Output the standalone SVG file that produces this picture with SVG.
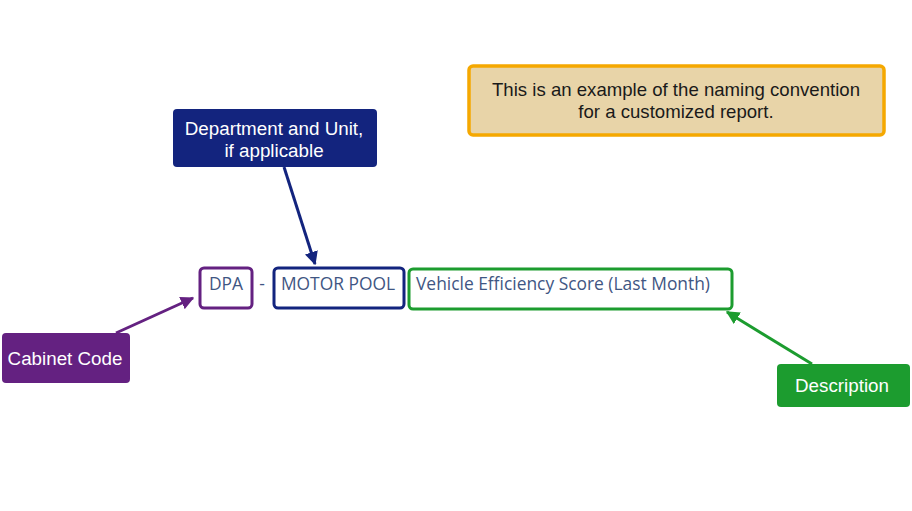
<svg xmlns="http://www.w3.org/2000/svg" width="912" height="511" viewBox="0 0 912 511">
<defs>
<style>
.lbl{font-family:"Liberation Sans",Arial,sans-serif;font-size:18.8px;fill:#ffffff;text-anchor:middle}
.note{font-family:"Liberation Sans",Arial,sans-serif;font-size:18.6px;fill:#1a1a1a;text-anchor:middle}
.seg{font-family:"Open Sans","Noto Sans",sans-serif;font-size:17.4px;fill:#3F5683}
.conn{stroke-width:3;fill:none}
</style>
<marker id="mP" viewBox="0 0 10 10" refX="9" refY="5" markerWidth="4.5" markerHeight="4.5" orient="auto" markerUnits="strokeWidth"><path d="M0,0L10,5L0,10z" fill="#642181"/></marker>
<marker id="mN" viewBox="0 0 10 10" refX="9" refY="5" markerWidth="4.5" markerHeight="4.5" orient="auto" markerUnits="strokeWidth"><path d="M0,0L10,5L0,10z" fill="#13247E"/></marker>
<marker id="mG" viewBox="0 0 10 10" refX="9" refY="5" markerWidth="4.5" markerHeight="4.5" orient="auto" markerUnits="strokeWidth"><path d="M0,0L10,5L0,10z" fill="#1C9C2F"/></marker>
</defs>
<rect width="912" height="511" fill="#ffffff"/>
<g id="note">
<rect x="469" y="66" width="415" height="69" rx="4" fill="#E8D4A8" stroke="#F5A800" stroke-width="3.5"/>
<text class="note" x="676" y="96">This is an example of the naming convention</text>
<text class="note" x="676" y="118">for a customized report.</text>
</g>
<g id="dept">
<rect x="173" y="109" width="204" height="58" rx="4" fill="#13247E"/>
<text class="lbl" x="274" y="135">Department and Unit,</text>
<text class="lbl" x="274" y="157">if applicable</text>
</g>
<g id="cabinet">
<rect x="2" y="333" width="128" height="50" rx="4" fill="#642181"/>
<text class="lbl" x="65" y="365">Cabinet Code</text>
</g>
<g id="description">
<rect x="777" y="364" width="133" height="43" rx="4" fill="#1C9C2F"/>
<text class="lbl" x="842" y="392">Description</text>
</g>
<g id="dpa">
<rect x="200" y="268" width="52" height="40" rx="4" fill="#ffffff" stroke="#642181" stroke-width="3"/>
<text class="seg" x="226" y="290" text-anchor="middle">DPA</text>
</g>
<text class="seg" x="262" y="290" text-anchor="middle">-</text>
<g id="motorpool">
<rect x="274" y="268" width="130" height="40" rx="4" fill="#ffffff" stroke="#13247E" stroke-width="3"/>
<text class="seg" x="338" y="290" text-anchor="middle">MOTOR POOL</text>
</g>
<g id="desc-field">
<rect x="409" y="269" width="323" height="40" rx="4" fill="#ffffff" stroke="#1C9C2F" stroke-width="3"/>
<text class="seg" x="416" y="290">Vehicle Efficiency Score (Last Month)</text>
</g>
<g id="connectors">
<line class="conn" x1="116" y1="333" x2="193" y2="298" stroke="#642181" marker-end="url(#mP)"/>
<line class="conn" x1="284" y1="167" x2="315" y2="264" stroke="#13247E" marker-end="url(#mN)"/>
<line class="conn" x1="812" y1="364" x2="727" y2="312" stroke="#1C9C2F" marker-end="url(#mG)"/>
</g>
</svg>
